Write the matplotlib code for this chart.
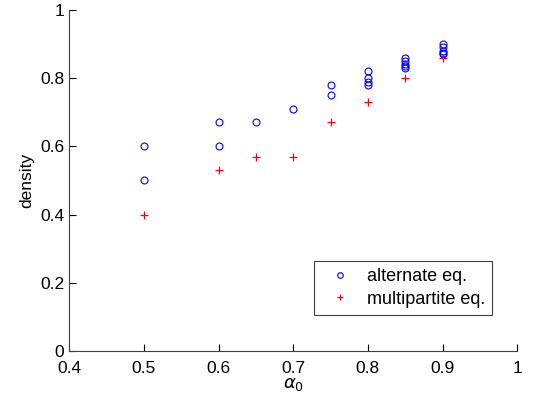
import numpy as np
import matplotlib
matplotlib.use('Agg')
import matplotlib.pyplot as plt

plt.rcParams['font.family'] = ['Liberation Sans', 'DejaVu Sans']

# alternate equilibria (several per alpha_0)
alt_x = [0.5, 0.5, 0.6, 0.6, 0.65, 0.7, 0.75, 0.75,
         0.8, 0.8, 0.8, 0.8,
         0.85, 0.85, 0.85, 0.85, 0.85,
         0.9, 0.9, 0.9, 0.9, 0.9]
alt_y = [0.60, 0.50, 0.67, 0.60, 0.67, 0.71, 0.78, 0.75,
         0.82, 0.80, 0.79, 0.78,
         0.86, 0.85, 0.84, 0.835, 0.83,
         0.90, 0.89, 0.88, 0.875, 0.87]

# multipartite equilibria
mp_x = [0.5, 0.6, 0.65, 0.7, 0.75, 0.8, 0.85, 0.9]
mp_y = [0.40, 0.53, 0.57, 0.57, 0.67, 0.73, 0.80, 0.86]

xticks = [0.4, 0.5, 0.6, 0.7, 0.8, 0.9, 1.0]
xticklabels = ['0.4', '0.5', '0.6', '0.7', '0.8', '0.9', '1']
yticks = [0, 0.2, 0.4, 0.6, 0.8, 1.0]
yticklabels = ['0', '0.2', '0.4', '0.6', '0.8', '1']

fig = plt.figure(figsize=(5.36, 4.11), dpi=100)
ax = fig.add_axes([0.129, 0.146, 0.836, 0.83])

ax.plot(alt_x, alt_y, 'o', color='blue', markerfacecolor='none',
        markersize=5, markeredgewidth=0.8, label='alternate eq.')
ax.plot(mp_x, mp_y, '+', color='red', markersize=6,
        markeredgewidth=0.9, label='multipartite eq.')

ax.set_xlim(0.4, 1)
ax.set_ylim(0, 1)
ax.set_xticks(xticks)
ax.set_xticklabels(xticklabels)
ax.set_yticks(yticks)
ax.set_yticklabels(yticklabels)
ax.tick_params(direction='in', length=5, labelsize=12.5, width=0.8)
ax.tick_params(axis='x', pad=7)
ax.spines['top'].set_visible(False)
ax.spines['right'].set_visible(False)
for s in ['left', 'bottom']:
    ax.spines[s].set_linewidth(0.8)
    ax.spines[s].set_color('#404040')

ax.set_xlabel(r'$\alpha_0$', fontsize=13, labelpad=0)
ax.set_ylabel('density', fontsize=12.5, labelpad=4)

leg = ax.legend(loc='lower right', bbox_to_anchor=(0.944, 0.106),
                borderaxespad=0, fontsize=13, fancybox=False, framealpha=1,
                edgecolor='#404040', handletextpad=0.5, borderpad=0.4,
                markerscale=0.8, labelspacing=0.3)
leg.get_frame().set_linewidth(0.8)

fig.savefig('out.png', dpi=100)
